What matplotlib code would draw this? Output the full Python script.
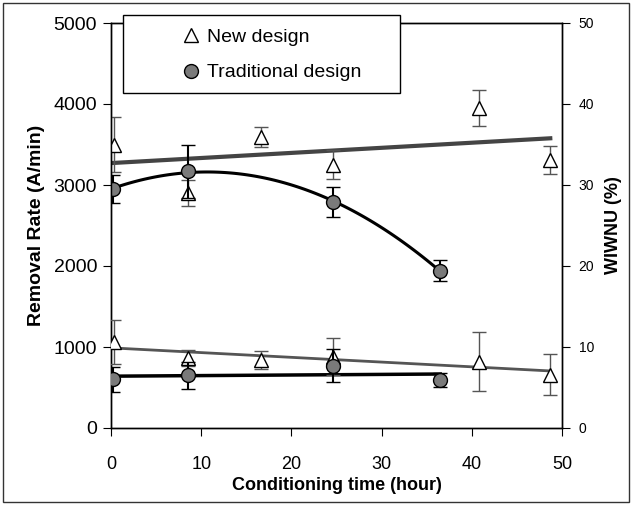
import numpy as np
import matplotlib
matplotlib.use('Agg')
from matplotlib import pyplot as plt
from matplotlib.lines import Line2D
from matplotlib.patches import Rectangle

plt.rcParams['font.family'] = ['Liberation Sans', 'DejaVu Sans']

# Dados
hours_new = [0.3, 8.5, 16.6, 24.6, 40.8, 48.7]
rate_new = [3500, 2900, 3590, 3250, 3950, 3310]
rate_new_err = [340, 160, 120, 180, 220, 170]
wiwnu_new = [10.6, 8.6, 8.4, 8.8, 8.2, 6.6]
wiwnu_new_err = [2.7, 1.0, 1.1, 2.3, 3.6, 2.5]

hours_trad = [0.2, 8.5, 24.6, 36.5]
rate_trad = [2950, 3170, 2790, 1940]
rate_trad_err = [170, 330, 180, 130]
wiwnu_trad = [6.0, 6.5, 7.7, 5.9]
wiwnu_trad_err = [1.5, 1.7, 2.0, 0.9]

W, H = 633, 507
fig = plt.figure(figsize=(W / 100, H / 100), dpi=100)
ax = fig.add_axes([111 / W, 1 - 428 / H, (562 - 111) / W, (428 - 23) / H])
ax2 = ax.twinx()

tri = dict(marker='^', markersize=10, markerfacecolor='white', markeredgecolor='black',
           markeredgewidth=1.0, linestyle='none')
circ = dict(marker='o', markersize=10, markerfacecolor='#7a7a7a', markeredgecolor='black',
            markeredgewidth=1.0, linestyle='none')

# Linhas de tendência (ajuste dos pontos)
xs = np.linspace(hours_new[0], hours_new[-1], 50)
p = np.polyfit(hours_new, rate_new, 1)
ax.plot(xs, np.polyval(p, xs), color='#444444', lw=3, zorder=2)
xt = np.linspace(0, hours_trad[-1], 100)
p = np.polyfit(hours_trad, rate_trad, 2)
ax.plot(xt, np.polyval(p, xt), color='black', lw=2.2, zorder=2)

p = np.polyfit(hours_new, wiwnu_new, 1)
ax2.plot(xs, np.polyval(p, xs), color='#555555', lw=2, zorder=2)
p = np.polyfit(hours_trad, wiwnu_trad, 1)
ax2.plot(xt, np.polyval(p, xt), color='black', lw=2.5, zorder=2)

# Pontos com barras de erro
ax.errorbar(hours_new, rate_new, yerr=rate_new_err, ecolor='#555555', elinewidth=1,
            capsize=5, capthick=1, zorder=3, **tri)
ax.errorbar(hours_trad, rate_trad, yerr=rate_trad_err, ecolor='black', elinewidth=1.5,
            capsize=5, capthick=1.5, zorder=4, **circ)
ax2.errorbar(hours_new, wiwnu_new, yerr=wiwnu_new_err, ecolor='#555555', elinewidth=1,
             capsize=5, capthick=1, zorder=3, **tri)
ax2.errorbar(hours_trad, wiwnu_trad, yerr=wiwnu_trad_err, ecolor='black', elinewidth=1.5,
             capsize=5, capthick=1.5, zorder=4, **circ)

ax.set_xlim(0, 50)
ax.set_ylim(0, 5000)
ax2.set_ylim(0, 50)
ax.set_xticks(range(0, 51, 10))
ax.set_yticks(range(0, 5001, 1000))
ax2.set_yticks(range(0, 51, 10))

ax.tick_params(axis='x', direction='out', length=6, labelsize=13, pad=14)
ax.tick_params(axis='y', direction='out', length=6, labelsize=14, pad=4)
ax2.tick_params(axis='y', direction='out', length=6, labelsize=10, pad=6)

ax.set_xlabel('Conditioning time (hour)', fontsize=13, fontweight='bold', labelpad=3)
ax.set_ylabel('Removal Rate (A/min)', fontsize=14, fontweight='bold', labelpad=6)
ax2.set_ylabel('WIWNU (%)', fontsize=13, fontweight='bold', rotation=90, labelpad=8)

for a in (ax, ax2):
    for s in a.spines.values():
        s.set_linewidth(1.0)

# Legenda com moldura desenhada à parte
fig.patches.append(Rectangle((123 / W, 1 - 93 / H), (400 - 123) / W, (93 - 15) / H,
                             transform=fig.transFigure, facecolor='white',
                             edgecolor='black', lw=1.0, zorder=5))
handles = [Line2D([], [], **tri), Line2D([], [], **circ)]
leg = fig.legend(handles, ['New design', 'Traditional design'], loc='upper left',
                 bbox_to_anchor=(168 / W, 1 - 15 / H), frameon=False, fontsize=14,
                 handlelength=1.0, handletextpad=0.3, labelspacing=0.9, borderpad=0.2)
leg.set_zorder(6)

# Moldura externa
fig.patches.append(Rectangle((3 / W, 1 - 502 / H), (629 - 3) / W, (502 - 3) / H,
                             transform=fig.transFigure, fill=False,
                             edgecolor='#333333', lw=1.0))

plt.savefig('out.png', dpi=100)
